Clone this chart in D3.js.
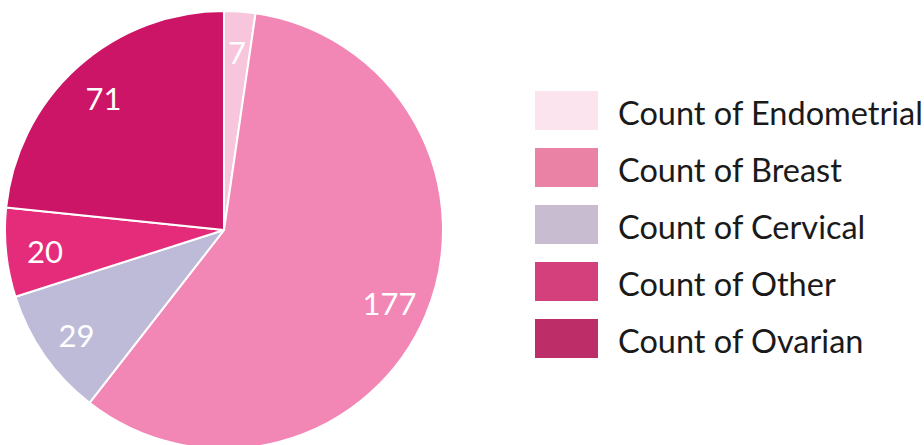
<!DOCTYPE html>
<html><head><meta charset="utf-8">
<script src="https://cdn.jsdelivr.net/npm/d3@7"></script>
<style>body{margin:0;background:#fff;}svg{display:block;}</style>
</head><body>
<svg id="c" width="924" height="445"></svg>
<script>
const categories = ["Endometrial", "Breast", "Cervical", "Other", "Ovarian"];
const values = [7, 177, 29, 20, 71];
const legendLabels = ["Count of Endometrial", "Count of Breast", "Count of Cervical", "Count of Other", "Count of Ovarian"];
const sliceColors = ["#f7c6dc", "#f287b6", "#bebbd9", "#e52c7b", "#cc1566"];
const legendColors = ["#fce4ee", "#ea82a6", "#c8bcd0", "#d4407b", "#bd2e68"];

const svg = d3.select("#c");
const cx = 224, cy = 230, R = 219;
const data = categories.map((c, i) => ({cat: c, value: values[i], i}));
const pie = d3.pie().value(d => d.value).sort(null);
const arcs = pie(data);
const arc = d3.arc().innerRadius(0).outerRadius(R);
const labelArc = d3.arc().innerRadius(180).outerRadius(180);

const g = svg.append("g").attr("transform", `translate(${cx},${cy})`);
g.selectAll("path").data(arcs).join("path")
  .attr("d", arc)
  .attr("fill", d => sliceColors[d.data.i])
  .attr("stroke", "#fff").attr("stroke-width", 2).attr("stroke-linejoin", "round");
g.selectAll("text").data(arcs).join("text")
  .attr("transform", d => `translate(${labelArc.centroid(d)})`)
  .attr("text-anchor", "middle").attr("dy", "0.45em")
  .attr("font-family", "Lato, 'Liberation Sans', sans-serif")
  .attr("font-size", 31).attr("fill", "#fff")
  .text(d => d.data.value);

const legendY = d3.scaleBand().domain(legendLabels).range([91, 91 + 57 * 5]);
const lg = svg.append("g");
lg.selectAll("rect").data(legendLabels).join("rect")
  .attr("x", 535).attr("y", d => legendY(d)).attr("width", 63).attr("height", 39)
  .attr("fill", (d, i) => legendColors[i]);
lg.selectAll("text").data(legendLabels).join("text")
  .attr("x", 618).attr("y", d => legendY(d) + 34)
  .attr("font-family", "Lato, 'Liberation Sans', sans-serif")
  .attr("font-size", 32.5).attr("fill", "#1a1a1a")
  .text(d => d);
</script>
</body></html>
